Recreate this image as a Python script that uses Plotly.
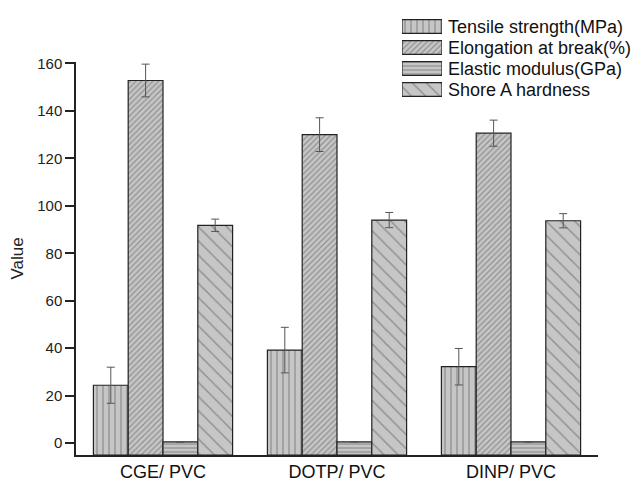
import plotly.graph_objects as go

# Mechanical properties of plasticized PVC films
samples = ["CGE/ PVC", "DOTP/ PVC", "DINP/ PVC"]

tensile_strength = [24.4, 39.2, 32.2]      # MPa
tensile_err = [7.6, 9.6, 7.7]

elongation = [152.8, 130.0, 130.6]         # %
elongation_err = [6.9, 7.1, 5.5]

elastic_modulus = [0.5, 0.5, 0.5]          # GPa
elastic_err = [0.15, 0.0, 0.15]

shore_a = [91.8, 94.0, 93.7]
shore_err = [2.6, 3.2, 3.0]

series_names = [
    "Tensile strength(MPa)",
    "Elongation at break(%)",
    "Elastic modulus(GPa)",
    "Shore A hardness",
]

Y_FLOOR = -5  # bars rise from the bottom of the value axis

W, H = 638, 485
M_L, M_R, M_T, M_B = 76, 40, 10, 30
PLOT_TOP_PX = 62                      # top of the value axis, in pixels
PLOT_H = H - M_T - M_B
PLOT_W = W - M_L - M_R


def ydom(px_top, px_bottom):
    """Convert pixel rows to a vertical paper-domain pair."""
    bottom = H - M_B
    return [(bottom - px_bottom) / PLOT_H, (bottom - px_top) / PLOT_H]


def xdom(px_left, px_right):
    return [(px_left - M_L) / PLOT_W, (px_right - M_L) / PLOT_W]


FONT = "Liberation Sans, Arial, sans-serif"
FILL = "#c6c6c6"
HATCH = "#5a5a5a"
EDGE = "#222222"

styles = [
    dict(shape="|", size=6, solidity=0.22),
    dict(shape="/", size=4, solidity=0.3),
    dict(shape="-", size=4, solidity=0.3),
    dict(shape="\\", size=10, solidity=0.15),
]


def bar_marker(st):
    return dict(
        color=FILL,
        line=dict(color=EDGE, width=1.2),
        pattern=dict(
            shape=st["shape"],
            size=st["size"],
            solidity=st["solidity"],
            fgcolor=HATCH,
            bgcolor=FILL,
            fillmode="overlay",
        ),
    )


fig = go.Figure()
for name, vals, errs, st in zip(
    series_names,
    [tensile_strength, elongation, elastic_modulus, shore_a],
    [tensile_err, elongation_err, elastic_err, shore_err],
    styles,
):
    fig.add_trace(
        go.Bar(
            name=name,
            x=samples,
            y=[v - Y_FLOOR for v in vals],
            base=Y_FLOOR,
            marker=bar_marker(st),
            error_y=dict(
                type="data",
                array=errs,
                visible=True,
                color="#555555",
                thickness=1,
                width=4,
            ),
            showlegend=False,
        )
    )

# Key: one hatched swatch per series on a small auxiliary axis pair
for i, (name, st) in enumerate(zip(series_names, styles)):
    fig.add_trace(
        go.Bar(
            x=[1],
            y=[i],
            base=0,
            orientation="h",
            width=0.66,
            marker=bar_marker(st),
            xaxis="x2",
            yaxis="y2",
            showlegend=False,
            hoverinfo="skip",
        )
    )
    fig.add_annotation(
        x=1,
        y=i,
        xref="x2",
        yref="y2",
        text=name,
        showarrow=False,
        xanchor="left",
        yanchor="middle",
        xshift=4,
        font=dict(size=18, family=FONT, color="#111111"),
    )

fig.update_layout(
    width=W,
    height=H,
    margin=dict(l=M_L, r=M_R, t=M_T, b=M_B),
    paper_bgcolor="white",
    plot_bgcolor="white",
    barmode="group",
    bargap=0.2,
    bargroupgap=0,
    font=dict(family=FONT, color="#222222"),
    showlegend=False,
    xaxis=dict(
        type="category",
        range=[-0.5, 2.5],
        showline=True,
        linecolor=EDGE,
        linewidth=1.5,
        showgrid=False,
        ticks="",
        tickfont=dict(size=18, family=FONT, color="#111111"),
        automargin=False,
    ),
    yaxis=dict(
        domain=ydom(PLOT_TOP_PX, H - M_B),
        range=[Y_FLOOR, 160.6],
        tickvals=[0, 20, 40, 60, 80, 100, 120, 140, 160],
        showline=True,
        linecolor=EDGE,
        linewidth=1.5,
        showgrid=False,
        zeroline=False,
        ticks="outside",
        ticklen=9,
        tickwidth=1.5,
        tickcolor=EDGE,
        tickfont=dict(size=15, family=FONT, color="#222222"),
        title=dict(text="Value", font=dict(size=17, family=FONT, color="#222222"), standoff=9),
        automargin=False,
    ),
    xaxis2=dict(
        domain=xdom(402, 442),
        range=[0, 1],
        anchor="y2",
        visible=False,
        fixedrange=True,
    ),
    yaxis2=dict(
        domain=ydom(16, 100),
        range=[3.5, -0.5],
        anchor="x2",
        visible=False,
        fixedrange=True,
    ),
)

fig.write_html("out.html")
